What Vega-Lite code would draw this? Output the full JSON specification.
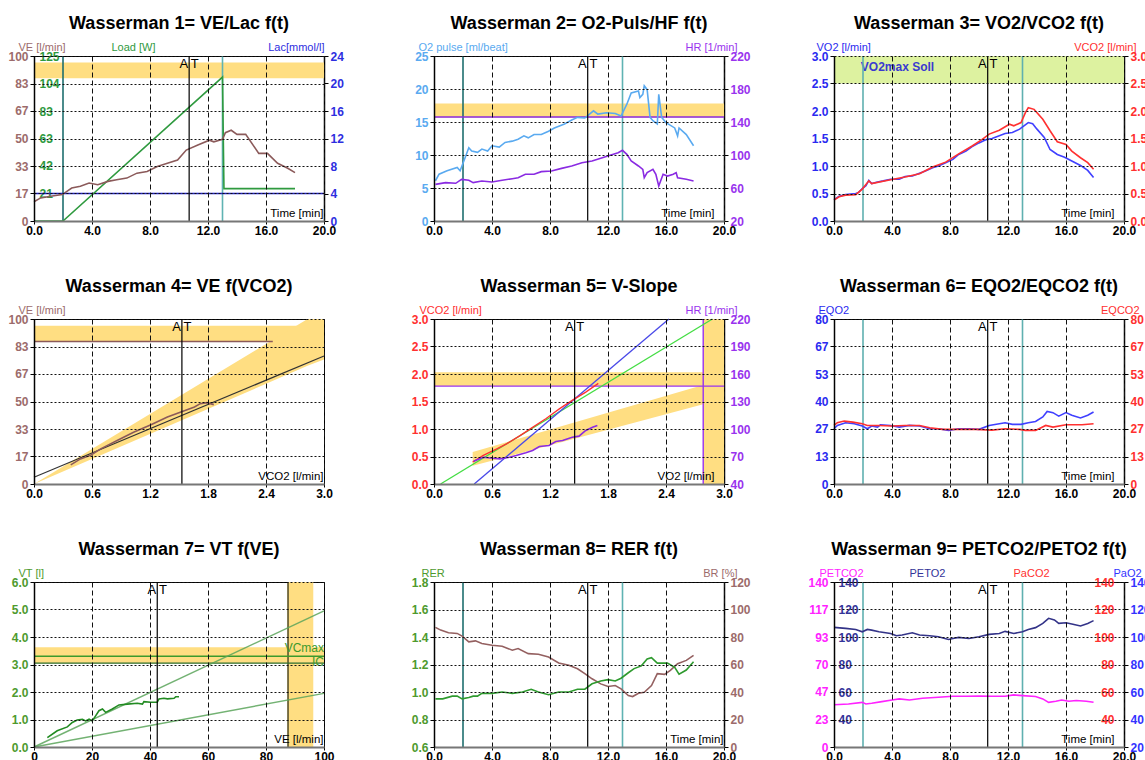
{
"$schema":"https://vega.github.io/schema/vega-lite/v6.json",
"background":"white",
"padding":{"left":7,"top":14,"right":5,"bottom":5},
"columns":3,
"spacing":{"row":98,"column":110},
"bounds":"flush",
"config":{
 "view":{"stroke":"black","strokeWidth":1},
 "axis":{"labelFont":"Liberation Sans","labelFontSize":12,"labelFontWeight":"bold","titleFont":"Liberation Sans","titleFontSize":11,"titleFontWeight":"normal","grid":false,"domainColor":"black","tickColor":"black","gridColor":"#111111","gridOpacity":1,"labelOverlap":false,"labelFlush":false},
 "axisX":{"gridDash":[5,3],"tickSize":3,"labelPadding":1,"domainColor":"#777777","domainWidth":2,"titleAlign":"right","titleBaseline":"bottom","titleY":-3,"titleX":289,"titleFontSize":11.5,"labelColor":"black","titleColor":"black"},
 "axisY":{"gridDash":[2,2],"titleAngle":0,"titleBaseline":"alphabetic","titleY":-6,"tickSize":4,"labelPadding":2,"domainWidth":1.5},
 "title":{"font":"Liberation Sans","fontSize":18,"fontWeight":"bold","color":"black","anchor":"middle","offset":8},
 "text":{"font":"Liberation Sans"},
 "line":{"strokeWidth":1.6}
},
"concat":[
{"title":{"text":"Wasserman 1= VE/Lac f(t)"},"width":290,"height":165,
 "resolve":{"scale":{"y":"independent"},"axis":{"y":"independent"}},
 "layer":[
  {"data":{"values":[{"lo":86.5,"hi":96}]},"mark":{"type":"rect","color":"#FFDE82"},
   "encoding":{"y":{"field":"lo","type":"quantitative","scale":{"domain":[0,100],"nice":false,"zero":false},"axis":null},"y2":{"field":"hi"}}},
  {"data":{"values":[{"t":2}]},"mark":{"type":"rule","color":"#1E6E6E","strokeWidth":1.6},
   "encoding":{"x":{"field":"t","type":"quantitative","scale":{"domain":[0,20],"nice":false,"zero":false}}}},
  {"data":{"values":[{"t":13}]},"mark":{"type":"rule","color":"#5FB3B3","strokeWidth":1.6},
   "encoding":{"x":{"field":"t","type":"quantitative","scale":{"domain":[0,20],"nice":false,"zero":false}}}},
  {"data":{"values":[{"t":0,"t1":20,"lac":4}]},"mark":{"type":"rule","color":"#2323C8","strokeWidth":1.4},
   "encoding":{"x":{"field":"t","type":"quantitative","scale":{"domain":[0,20],"nice":false,"zero":false}},"x2":{"field":"t1"},"y":{"field":"lac","type":"quantitative","scale":{"domain":[0,24],"nice":false,"zero":false},"axis":{"orient":"right","values":[0,4,8,12,16,20,24],"labelColor":"#2E2EE0","title":"Lac[mmol/l]","titleColor":"#2E2EE0","titleAlign":"right","titleX":0}}}},
  {"data":{"values":[{"t":0,"load":0},{"t":2,"load":0},{"t":13.0,"load":109},{"t":13.1,"load":24.5},{"t":18,"load":24.5}]},"mark":{"type":"line","color":"#2F9A3F"},
   "encoding":{"x":{"field":"t","type":"quantitative","scale":{"domain":[0,20],"nice":false,"zero":false}},"y":{"field":"load","type":"quantitative","scale":{"domain":[0,125],"nice":false,"zero":false},"axis":{"orient":"left","values":[20.833,41.667,62.5,83.333,104.167,125],"format":".0f","ticks":false,"tickSize":0,"labelPadding":-5,"labelAlign":"left","domain":false,"labelColor":"#2F9A3F","title":"Load [W]","titleColor":"#2F9A3F","titleAlign":"left","titleX":77}}}},
  {"data":{"values":[{"t":0,"v":11.7},{"t":0.46,"v":14},{"t":1.15,"v":15},{"t":1.95,"v":16},{"t":2.6,"v":20},{"t":3.2,"v":21},{"t":3.8,"v":23},{"t":4.4,"v":22},{"t":5.1,"v":24},{"t":5.7,"v":25},{"t":6.4,"v":26},{"t":7.1,"v":29},{"t":7.8,"v":30},{"t":8.5,"v":33},{"t":9.2,"v":35},{"t":9.9,"v":37},{"t":10.5,"v":43},{"t":11.3,"v":46},{"t":12.1,"v":49},{"t":12.4,"v":48},{"t":13.0,"v":49.5},{"t":13.2,"v":53.5},{"t":13.6,"v":55},{"t":14.0,"v":52.5},{"t":14.6,"v":52.5},{"t":15.5,"v":41},{"t":16.1,"v":41},{"t":16.8,"v":35},{"t":17.5,"v":32},{"t":18.0,"v":29.3}]},"mark":{"type":"line","color":"#8B5A5A"},
   "encoding":{"x":{"field":"t","type":"quantitative","scale":{"domain":[0,20],"nice":false,"zero":false},"axis":{"values":[0,2,4,6,8,10,12,14,16,18,20],"labelExpr":"datum.value % 4 === 0 ? format(datum.value, '.1f') : ''","grid":true,"zindex":1,"title":"Time [min]","titleX":289}},"y":{"field":"v","type":"quantitative","scale":{"domain":[0,100],"nice":false,"zero":false},"axis":{"orient":"left","values":[0,16.667,33.333,50,66.667,83.333,100],"format":".0f","grid":true,"zindex":1,"labelColor":"#9C6B6B","title":"VE [l/min]","titleColor":"#9C6B6B","titleAlign":"left","titleX":-16}}}},
  {"data":{"values":[{"t":10.7}]},"mark":{"type":"rule","color":"black","strokeWidth":1.2},
   "encoding":{"x":{"field":"t","type":"quantitative","scale":{"domain":[0,20],"nice":false,"zero":false}}}},
  {"data":{"values":[{"t":10.7,"y":100,"label":"A T"}]},"mark":{"type":"text","baseline":"top","dy":2,"fontSize":13,"color":"black"},
   "encoding":{"x":{"field":"t","type":"quantitative","scale":{"domain":[0,20],"nice":false,"zero":false}},"y":{"field":"y","type":"quantitative","scale":{"domain":[0,100],"nice":false,"zero":false},"axis":null},"text":{"field":"label"}}}
 ]},
{"title":{"text":"Wasserman 2= O2-Puls/HF f(t)"},"width":290,"height":165,
 "resolve":{"scale":{"y":"independent"},"axis":{"y":"independent"}},
 "layer":[
  {"data":{"values":[{"lo":15.7,"hi":17.8}]},"mark":{"type":"rect","color":"#FFDE82"},
   "encoding":{"y":{"field":"lo","type":"quantitative","scale":{"domain":[0,25],"nice":false,"zero":false},"axis":null},"y2":{"field":"hi"}}},
  {"data":{"values":[{"t":2}]},"mark":{"type":"rule","color":"#1E6E6E","strokeWidth":1.6},
   "encoding":{"x":{"field":"t","type":"quantitative","scale":{"domain":[0,20],"nice":false,"zero":false}}}},
  {"data":{"values":[{"t":13}]},"mark":{"type":"rule","color":"#5FB3B3","strokeWidth":1.6},
   "encoding":{"x":{"field":"t","type":"quantitative","scale":{"domain":[0,20],"nice":false,"zero":false}}}},
  {"data":{"values":[{"hr":146}]},"mark":{"type":"rule","color":"#8A2BE2","strokeWidth":1.4},
   "encoding":{"y":{"field":"hr","type":"quantitative","scale":{"domain":[20,220],"nice":false,"zero":false},"axis":null}}},
  {"data":{"values":[{"t":0.1,"v":6.1},{"t":0.35,"v":7.1},{"t":0.9,"v":7.6},{"t":1.6,"v":8.1},{"t":1.8,"v":7.6},{"t":2.06,"v":9.1},{"t":2.4,"v":11.1},{"t":2.6,"v":10.6},{"t":3.0,"v":10.4},{"t":3.3,"v":10.9},{"t":3.7,"v":10.6},{"t":4.0,"v":11.4},{"t":4.5,"v":11.2},{"t":4.9,"v":11.9},{"t":5.4,"v":12.1},{"t":5.8,"v":12.4},{"t":6.2,"v":12.9},{"t":6.5,"v":12.6},{"t":6.9,"v":13.1},{"t":7.4,"v":13.1},{"t":7.9,"v":13.6},{"t":8.3,"v":14.1},{"t":9.0,"v":14.7},{"t":9.5,"v":15.3},{"t":9.9,"v":15.7},{"t":10.4,"v":15.6},{"t":11.0,"v":16.7},{"t":11.3,"v":16.2},{"t":11.9,"v":16.4},{"t":12.5,"v":16.3},{"t":12.9,"v":15.9},{"t":13.3,"v":17.7},{"t":13.6,"v":19.4},{"t":14.1,"v":19.7},{"t":14.2,"v":18.7},{"t":14.4,"v":19.2},{"t":14.5,"v":20.5},{"t":14.7,"v":19.9},{"t":14.9,"v":15.7},{"t":15.1,"v":15.2},{"t":15.4,"v":14.7},{"t":15.5,"v":19.2},{"t":15.7,"v":15.7},{"t":16.0,"v":14.9},{"t":16.6,"v":14.1},{"t":16.8,"v":12.9},{"t":16.9,"v":14.1},{"t":17.4,"v":13.1},{"t":17.9,"v":11.4}]},"mark":{"type":"line","color":"#5AAAF0"},
   "encoding":{"x":{"field":"t","type":"quantitative","scale":{"domain":[0,20],"nice":false,"zero":false},"axis":{"values":[0,2,4,6,8,10,12,14,16,18,20],"labelExpr":"datum.value % 4 === 0 ? format(datum.value, '.1f') : ''","grid":true,"zindex":1,"title":"Time [min]","titleX":280}},"y":{"field":"v","type":"quantitative","scale":{"domain":[0,25],"nice":false,"zero":false},"axis":{"orient":"left","values":[0,5,10,15,20,25],"format":"d","grid":true,"zindex":1,"labelColor":"#5AAAF0","title":"O2 pulse [ml/beat]","titleColor":"#5AAAF0","titleAlign":"left","titleX":-16}}}},
  {"data":{"values":[{"t":0.1,"hr":64.4},{"t":0.8,"hr":66.5},{"t":1.5,"hr":65.7},{"t":1.9,"hr":70.5},{"t":2.4,"hr":69.3},{"t":2.7,"hr":66.5},{"t":3.3,"hr":68.5},{"t":4.0,"hr":67.3},{"t":4.7,"hr":69.3},{"t":5.4,"hr":71.3},{"t":5.8,"hr":72.5},{"t":6.3,"hr":76.6},{"t":6.9,"hr":76.6},{"t":7.4,"hr":79.8},{"t":8.1,"hr":80.6},{"t":8.8,"hr":83.8},{"t":9.5,"hr":86.7},{"t":10.2,"hr":90.7},{"t":10.9,"hr":92.7},{"t":11.5,"hr":96},{"t":12.2,"hr":100},{"t":12.7,"hr":102.8},{"t":13.0,"hr":105.7},{"t":13.3,"hr":100.8},{"t":13.6,"hr":92.7},{"t":14.1,"hr":86.7},{"t":14.4,"hr":82.6},{"t":14.5,"hr":72.5},{"t":14.7,"hr":78.6},{"t":15.1,"hr":82.6},{"t":15.3,"hr":76.6},{"t":15.5,"hr":62.4},{"t":15.8,"hr":76.6},{"t":16.1,"hr":74.5},{"t":16.5,"hr":76.6},{"t":16.7,"hr":78.6},{"t":16.8,"hr":72.5},{"t":17.4,"hr":70.5},{"t":17.9,"hr":68.5}]},"mark":{"type":"line","color":"#8A2BE2"},
   "encoding":{"x":{"field":"t","type":"quantitative","scale":{"domain":[0,20],"nice":false,"zero":false}},"y":{"field":"hr","type":"quantitative","scale":{"domain":[20,220],"nice":false,"zero":false},"axis":{"orient":"right","values":[20,60,100,140,180,220],"labelColor":"#9933EE","title":"HR [1/min]","titleColor":"#9933EE","titleAlign":"right","titleX":13}}}},
  {"data":{"values":[{"t":10.6}]},"mark":{"type":"rule","color":"black","strokeWidth":1.2},
   "encoding":{"x":{"field":"t","type":"quantitative","scale":{"domain":[0,20],"nice":false,"zero":false}}}},
  {"data":{"values":[{"t":10.6,"y":25,"label":"A T"}]},"mark":{"type":"text","baseline":"top","dy":2,"fontSize":13,"color":"black"},
   "encoding":{"x":{"field":"t","type":"quantitative","scale":{"domain":[0,20],"nice":false,"zero":false}},"y":{"field":"y","type":"quantitative","scale":{"domain":[0,25],"nice":false,"zero":false},"axis":null},"text":{"field":"label"}}}
 ]},
{"title":{"text":"Wasserman 3= VO2/VCO2 f(t)"},"width":290,"height":165,
 "resolve":{"scale":{"y":"independent"},"axis":{"y":"independent"}},
 "layer":[
  {"data":{"values":[{"lo":2.5,"hi":3.0}]},"mark":{"type":"rect","color":"#DDF2A0"},
   "encoding":{"y":{"field":"lo","type":"quantitative","scale":{"domain":[0,3],"nice":false,"zero":false},"axis":null},"y2":{"field":"hi"}}},
  {"data":{"values":[{"t":1.85,"y":2.8,"label":"VO2max Soll"}]},"mark":{"type":"text","align":"left","baseline":"middle","fontSize":12,"fontWeight":"bold","color":"#3A3AD0"},
   "encoding":{"x":{"field":"t","type":"quantitative","scale":{"domain":[0,20],"nice":false,"zero":false}},"y":{"field":"y","type":"quantitative","scale":{"domain":[0,3],"nice":false,"zero":false},"axis":null},"text":{"field":"label"}}},
  {"data":{"values":[{"t":2}]},"mark":{"type":"rule","color":"#5FB0B0","strokeWidth":1.6},
   "encoding":{"x":{"field":"t","type":"quantitative","scale":{"domain":[0,20],"nice":false,"zero":false}}}},
  {"data":{"values":[{"t":13}]},"mark":{"type":"rule","color":"#5FB0B0","strokeWidth":1.6},
   "encoding":{"x":{"field":"t","type":"quantitative","scale":{"domain":[0,20],"nice":false,"zero":false}}}},
  {"data":{"values":[{"t":0,"v":0.39},{"t":0.35,"v":0.45},{"t":0.8,"v":0.48},{"t":1.5,"v":0.5},{"t":1.7,"v":0.52},{"t":1.95,"v":0.59},{"t":2.2,"v":0.64},{"t":2.4,"v":0.74},{"t":2.6,"v":0.68},{"t":3.0,"v":0.71},{"t":3.4,"v":0.73},{"t":3.9,"v":0.76},{"t":4.5,"v":0.76},{"t":4.9,"v":0.81},{"t":5.4,"v":0.82},{"t":5.9,"v":0.87},{"t":6.3,"v":0.91},{"t":6.8,"v":0.97},{"t":7.2,"v":1.0},{"t":7.7,"v":1.06},{"t":8.2,"v":1.12},{"t":8.6,"v":1.21},{"t":9.1,"v":1.27},{"t":9.5,"v":1.35},{"t":10.0,"v":1.42},{"t":10.5,"v":1.48},{"t":10.9,"v":1.5},{"t":11.4,"v":1.55},{"t":11.8,"v":1.59},{"t":12.3,"v":1.61},{"t":12.8,"v":1.67},{"t":13.1,"v":1.73},{"t":13.4,"v":1.79},{"t":13.7,"v":1.77},{"t":14.0,"v":1.67},{"t":14.5,"v":1.52},{"t":14.9,"v":1.3},{"t":15.4,"v":1.21},{"t":15.9,"v":1.16},{"t":16.4,"v":1.09},{"t":17.0,"v":1.01},{"t":17.5,"v":0.92},{"t":17.9,"v":0.79}]},"mark":{"type":"line","color":"#4040FF"},
   "encoding":{"x":{"field":"t","type":"quantitative","scale":{"domain":[0,20],"nice":false,"zero":false},"axis":{"values":[0,2,4,6,8,10,12,14,16,18,20],"labelExpr":"datum.value % 4 === 0 ? format(datum.value, '.1f') : ''","grid":true,"zindex":1,"title":"Time [min]","titleX":280}},"y":{"field":"v","type":"quantitative","scale":{"domain":[0,3],"nice":false,"zero":false},"axis":{"orient":"left","values":[0,0.5,1,1.5,2,2.5,3],"format":".1f","grid":true,"zindex":1,"labelColor":"#2A2AF0","title":"VO2 [l/min]","titleColor":"#2A2AF0","titleAlign":"left","titleX":-18}}}},
  {"data":{"values":[{"t":0,"v":0.38},{"t":0.35,"v":0.44},{"t":0.8,"v":0.47},{"t":1.5,"v":0.48},{"t":1.95,"v":0.58},{"t":2.4,"v":0.73},{"t":2.6,"v":0.68},{"t":3.9,"v":0.75},{"t":4.9,"v":0.8},{"t":5.9,"v":0.86},{"t":6.8,"v":0.98},{"t":7.7,"v":1.07},{"t":8.6,"v":1.22},{"t":9.5,"v":1.36},{"t":10.2,"v":1.48},{"t":10.7,"v":1.58},{"t":11.4,"v":1.65},{"t":12.1,"v":1.76},{"t":12.4,"v":1.73},{"t":12.9,"v":1.79},{"t":13.2,"v":1.97},{"t":13.4,"v":2.06},{"t":13.8,"v":2.03},{"t":14.4,"v":1.85},{"t":14.9,"v":1.64},{"t":15.4,"v":1.44},{"t":16.0,"v":1.39},{"t":16.4,"v":1.27},{"t":17.0,"v":1.15},{"t":17.5,"v":1.06},{"t":17.9,"v":0.94}]},"mark":{"type":"line","color":"#FF3030"},
   "encoding":{"x":{"field":"t","type":"quantitative","scale":{"domain":[0,20],"nice":false,"zero":false}},"y":{"field":"v","type":"quantitative","scale":{"domain":[0,3],"nice":false,"zero":false},"axis":{"orient":"right","values":[0,0.5,1,1.5,2,2.5,3],"format":".1f","labelColor":"#FF3030","title":"VCO2 [l/min]","titleColor":"#FF3030","titleAlign":"right","titleX":12}}}},
  {"data":{"values":[{"t":10.6}]},"mark":{"type":"rule","color":"black","strokeWidth":1.2},
   "encoding":{"x":{"field":"t","type":"quantitative","scale":{"domain":[0,20],"nice":false,"zero":false}}}},
  {"data":{"values":[{"t":10.6,"y":3,"label":"A T"}]},"mark":{"type":"text","baseline":"top","dy":2,"fontSize":13,"color":"black"},
   "encoding":{"x":{"field":"t","type":"quantitative","scale":{"domain":[0,20],"nice":false,"zero":false}},"y":{"field":"y","type":"quantitative","scale":{"domain":[0,3],"nice":false,"zero":false},"axis":null},"text":{"field":"label"}}}
 ]},
{"title":{"text":"Wasserman 4= VE f(VCO2)"},"width":290,"height":165,
 "resolve":{"scale":{"y":"independent"},"axis":{"y":"independent"}},
 "layer":[
  {"data":{"values":[{"x0":0,"x1":2.72,"lo":86.4,"hi":95.9}]},"mark":{"type":"rect","color":"#FFDE82"},
   "encoding":{"x":{"field":"x0","type":"quantitative","scale":{"domain":[0,3],"nice":false,"zero":false},"axis":{"values":[0,0.3,0.6,0.9,1.2,1.5,1.8,2.1,2.4,2.7,3],"labelExpr":"round(datum.value*10) % 6 === 0 ? format(datum.value, '.1f') : ''","grid":true,"zindex":1,"title":"VCO2 [l/min]","titleX":289}},"x2":{"field":"x1"},
   "y":{"field":"lo","type":"quantitative","scale":{"domain":[0,100],"nice":false,"zero":false},"axis":{"orient":"left","values":[0,16.667,33.333,50,66.667,83.333,100],"format":".0f","grid":true,"zindex":1,"labelColor":"#9C6B6B","title":"VE [l/min]","titleColor":"#9C6B6B","titleAlign":"left","titleX":-16}},"y2":{"field":"hi"}}},
  {"data":{"values":[{"vco2":0,"lo":0,"hi":0},{"vco2":2.83,"lo":71.6,"hi":100},{"vco2":3.0,"lo":75.5,"hi":100}]},"mark":{"type":"area","color":"#FFDE82","orient":"vertical"},
   "encoding":{"x":{"field":"vco2","type":"quantitative","scale":{"domain":[0,3],"nice":false,"zero":false}},"y":{"field":"lo","type":"quantitative","scale":{"domain":[0,100],"nice":false,"zero":false},"axis":null},"y2":{"field":"hi"}}},
  {"data":{"values":[{"x0":0,"x1":2.47,"ve":86.4}]},"mark":{"type":"rule","color":"#8B5A5A","strokeWidth":1.5},
   "encoding":{"x":{"field":"x0","type":"quantitative","scale":{"domain":[0,3],"nice":false,"zero":false}},"x2":{"field":"x1"},"y":{"field":"ve","type":"quantitative","scale":{"domain":[0,100],"nice":false,"zero":false},"axis":null}}},
  {"data":{"values":[{"vco2":0,"ve":4.1},{"vco2":3.0,"ve":77.6}]},"mark":{"type":"line","color":"#333333","strokeWidth":1.2},
   "encoding":{"x":{"field":"vco2","type":"quantitative","scale":{"domain":[0,3],"nice":false,"zero":false}},"y":{"field":"ve","type":"quantitative","scale":{"domain":[0,100],"nice":false,"zero":false},"axis":null}}},
  {"data":{"values":[{"vco2":0.38,"ve":11.6},{"vco2":0.48,"ve":15.2},{"vco2":0.59,"ve":17.6},{"vco2":0.69,"ve":21.3},{"vco2":0.86,"ve":26.4},{"vco2":1.03,"ve":31.4},{"vco2":1.21,"ve":35.9},{"vco2":1.38,"ve":40.6},{"vco2":1.52,"ve":43.6},{"vco2":1.66,"ve":46.7},{"vco2":1.72,"ve":48.7},{"vco2":1.79,"ve":49.3},{"vco2":1.86,"ve":48.1}]},"mark":{"type":"line","color":"#8B5A5A"},
   "encoding":{"x":{"field":"vco2","type":"quantitative","scale":{"domain":[0,3],"nice":false,"zero":false}},"y":{"field":"ve","type":"quantitative","scale":{"domain":[0,100],"nice":false,"zero":false},"axis":null}}},
  {"data":{"values":[{"vco2":1.53}]},"mark":{"type":"rule","color":"black","strokeWidth":1.2},
   "encoding":{"x":{"field":"vco2","type":"quantitative","scale":{"domain":[0,3],"nice":false,"zero":false}}}},
  {"data":{"values":[{"vco2":1.53,"y":100,"label":"A T"}]},"mark":{"type":"text","baseline":"top","dy":2,"fontSize":13,"color":"black"},
   "encoding":{"x":{"field":"vco2","type":"quantitative","scale":{"domain":[0,3],"nice":false,"zero":false}},"y":{"field":"y","type":"quantitative","scale":{"domain":[0,100],"nice":false,"zero":false},"axis":null},"text":{"field":"label"}}}
 ]},
{"title":{"text":"Wasserman 5= V-Slope"},"width":290,"height":165,
 "resolve":{"scale":{"y":"independent"},"axis":{"y":"independent"}},
 "layer":[
  {"data":{"values":[{"lo":1.78,"hi":2.03}]},"mark":{"type":"rect","color":"#FFDE82"},
   "encoding":{"y":{"field":"lo","type":"quantitative","scale":{"domain":[0,3],"nice":false,"zero":false},"axis":null},"y2":{"field":"hi"}}},
  {"data":{"values":[{"x0":2.785,"x1":3.0}]},"mark":{"type":"rect","color":"#FFDE82"},
   "encoding":{"x":{"field":"x0","type":"quantitative","scale":{"domain":[0,3],"nice":false,"zero":false}},"x2":{"field":"x1"}}},
  {"data":{"values":[{"vo2":0.4,"lo":0.33,"hi":0.58},{"vo2":2.785,"lo":1.45,"hi":1.8}]},"mark":{"type":"area","color":"#FFDE82","orient":"vertical"},
   "encoding":{"x":{"field":"vo2","type":"quantitative","scale":{"domain":[0,3],"nice":false,"zero":false}},"y":{"field":"lo","type":"quantitative","scale":{"domain":[0,3],"nice":false,"zero":false},"axis":null},"y2":{"field":"hi"}}},
  {"data":{"values":[{"vco2":1.78}]},"mark":{"type":"rule","color":"#9933EE","strokeWidth":1.4},
   "encoding":{"y":{"field":"vco2","type":"quantitative","scale":{"domain":[0,3],"nice":false,"zero":false},"axis":null}}},
  {"data":{"values":[{"vo2":2.785}]},"mark":{"type":"rule","color":"#9933EE","strokeWidth":1.4},
   "encoding":{"x":{"field":"vo2","type":"quantitative","scale":{"domain":[0,3],"nice":false,"zero":false}}}},
  {"data":{"values":[{"vo2":0.068,"vco2":0},{"vo2":2.88,"vco2":3.0}]},"mark":{"type":"line","color":"#44DD44","strokeWidth":1.3},
   "encoding":{"x":{"field":"vo2","type":"quantitative","scale":{"domain":[0,3],"nice":false,"zero":false}},"y":{"field":"vco2","type":"quantitative","scale":{"domain":[0,3],"nice":false,"zero":false},"axis":null}}},
  {"data":{"values":[{"vo2":0.416,"vco2":0},{"vo2":2.43,"vco2":3.0}]},"mark":{"type":"line","color":"#4848E8","strokeWidth":1.3},
   "encoding":{"x":{"field":"vo2","type":"quantitative","scale":{"domain":[0,3],"nice":false,"zero":false}},"y":{"field":"vco2","type":"quantitative","scale":{"domain":[0,3],"nice":false,"zero":false},"axis":null}}},
  {"data":{"values":[{"vo2":0.4,"vco2":0.4},{"vo2":0.51,"vco2":0.52},{"vo2":0.65,"vco2":0.64},{"vo2":0.75,"vco2":0.73},{"vo2":0.89,"vco2":0.88},{"vo2":1.02,"vco2":1.03},{"vo2":1.16,"vco2":1.19},{"vo2":1.3,"vco2":1.37},{"vo2":1.43,"vco2":1.52},{"vo2":1.57,"vco2":1.67},{"vo2":1.7,"vco2":1.83}]},"mark":{"type":"line","color":"#FF3030","strokeWidth":1.3},
   "encoding":{"x":{"field":"vo2","type":"quantitative","scale":{"domain":[0,3],"nice":false,"zero":false},"axis":{"values":[0,0.3,0.6,0.9,1.2,1.5,1.8,2.1,2.4,2.7,3],"labelExpr":"round(datum.value*10) % 6 === 0 ? format(datum.value, '.1f') : ''","grid":true,"zindex":1,"title":"VO2 [l/min]","titleX":280}},"y":{"field":"vco2","type":"quantitative","scale":{"domain":[0,3],"nice":false,"zero":false},"axis":{"orient":"left","values":[0,0.5,1,1.5,2,2.5,3],"format":".1f","grid":true,"zindex":1,"labelColor":"#FF3030","title":"VCO2 [l/min]","titleColor":"#FF3030","titleAlign":"left","titleX":-15}}}},
  {"data":{"values":[{"vo2":0.41,"hr":64.8},{"vo2":0.51,"hr":69.2},{"vo2":0.61,"hr":68.1},{"vo2":0.68,"hr":67.4},{"vo2":0.78,"hr":69.2},{"vo2":0.85,"hr":71},{"vo2":0.95,"hr":74},{"vo2":1.02,"hr":76.5},{"vo2":1.09,"hr":80.9},{"vo2":1.19,"hr":82},{"vo2":1.26,"hr":86.4},{"vo2":1.33,"hr":87.5},{"vo2":1.43,"hr":91.1},{"vo2":1.5,"hr":92.2},{"vo2":1.57,"hr":98.4},{"vo2":1.64,"hr":102},{"vo2":1.69,"hr":103.9}]},"mark":{"type":"line","color":"#8A2BE2"},
   "encoding":{"x":{"field":"vo2","type":"quantitative","scale":{"domain":[0,3],"nice":false,"zero":false}},"y":{"field":"hr","type":"quantitative","scale":{"domain":[40,220],"nice":false,"zero":false},"axis":{"orient":"right","values":[40,70,100,130,160,190,220],"labelColor":"#9933EE","title":"HR [1/min]","titleColor":"#9933EE","titleAlign":"right","titleX":13}}}},
  {"data":{"values":[{"vo2":1.455}]},"mark":{"type":"rule","color":"black","strokeWidth":1.2},
   "encoding":{"x":{"field":"vo2","type":"quantitative","scale":{"domain":[0,3],"nice":false,"zero":false}}}},
  {"data":{"values":[{"vo2":1.455,"y":3,"label":"A T"}]},"mark":{"type":"text","baseline":"top","dy":2,"fontSize":13,"color":"black"},
   "encoding":{"x":{"field":"vo2","type":"quantitative","scale":{"domain":[0,3],"nice":false,"zero":false}},"y":{"field":"y","type":"quantitative","scale":{"domain":[0,3],"nice":false,"zero":false},"axis":null},"text":{"field":"label"}}}
 ]},
{"title":{"text":"Wasserman 6= EQO2/EQCO2 f(t)"},"width":290,"height":165,
 "resolve":{"scale":{"y":"independent"},"axis":{"y":"independent"}},
 "layer":[
  {"data":{"values":[{"t":2}]},"mark":{"type":"rule","color":"#5FB0B0","strokeWidth":1.6},
   "encoding":{"x":{"field":"t","type":"quantitative","scale":{"domain":[0,20],"nice":false,"zero":false}}}},
  {"data":{"values":[{"t":13}]},"mark":{"type":"rule","color":"#5FB0B0","strokeWidth":1.6},
   "encoding":{"x":{"field":"t","type":"quantitative","scale":{"domain":[0,20],"nice":false,"zero":false}}}},
  {"data":{"values":[{"t":0,"v":26.8},{"t":0.23,"v":28.4},{"t":0.8,"v":29.7},{"t":1.4,"v":29.2},{"t":1.95,"v":28.1},{"t":2.3,"v":26.8},{"t":2.6,"v":28.1},{"t":3.0,"v":27.6},{"t":3.2,"v":28.7},{"t":3.9,"v":28.4},{"t":4.5,"v":27.6},{"t":5.2,"v":28.4},{"t":5.9,"v":28.1},{"t":6.6,"v":26.8},{"t":7.2,"v":26.8},{"t":7.9,"v":26},{"t":8.6,"v":26.8},{"t":9.3,"v":26.8},{"t":10.0,"v":26.5},{"t":10.7,"v":28.4},{"t":11.4,"v":29.2},{"t":11.8,"v":29.7},{"t":12.3,"v":28.9},{"t":12.9,"v":28.9},{"t":13.4,"v":29.7},{"t":13.9,"v":30.3},{"t":14.4,"v":32.5},{"t":14.7,"v":35.2},{"t":15.1,"v":34.6},{"t":15.5,"v":32.9},{"t":16.0,"v":34.6},{"t":16.4,"v":33.3},{"t":17.0,"v":32},{"t":17.5,"v":33.3},{"t":17.9,"v":34.9}]},"mark":{"type":"line","color":"#4040FF"},
   "encoding":{"x":{"field":"t","type":"quantitative","scale":{"domain":[0,20],"nice":false,"zero":false},"axis":{"values":[0,2,4,6,8,10,12,14,16,18,20],"labelExpr":"datum.value % 4 === 0 ? format(datum.value, '.1f') : ''","grid":true,"zindex":1,"title":"Time [min]","titleX":280}},"y":{"field":"v","type":"quantitative","scale":{"domain":[0,80],"nice":false,"zero":false},"axis":{"orient":"left","values":[0,13.333,26.667,40,53.333,66.667,80],"format":".0f","grid":true,"zindex":1,"labelColor":"#2A2AF0","title":"EQO2","titleColor":"#2A2AF0","titleAlign":"left","titleX":-16}}}},
  {"data":{"values":[{"t":0,"v":28.4},{"t":0.23,"v":29.7},{"t":0.7,"v":30.5},{"t":1.3,"v":30.0},{"t":1.95,"v":29.2},{"t":2.3,"v":28.4},{"t":3.1,"v":28.4},{"t":4.0,"v":28.1},{"t":4.9,"v":28.4},{"t":5.9,"v":28.4},{"t":6.6,"v":27.3},{"t":7.5,"v":26.5},{"t":8.6,"v":26.5},{"t":9.8,"v":26.5},{"t":10.9,"v":26.1},{"t":11.8,"v":26.8},{"t":12.8,"v":26.5},{"t":13.2,"v":26},{"t":13.9,"v":26},{"t":14.6,"v":28.4},{"t":15.1,"v":27.6},{"t":16.0,"v":28.7},{"t":17.1,"v":28.7},{"t":17.9,"v":29.2}]},"mark":{"type":"line","color":"#FF3030"},
   "encoding":{"x":{"field":"t","type":"quantitative","scale":{"domain":[0,20],"nice":false,"zero":false}},"y":{"field":"v","type":"quantitative","scale":{"domain":[0,80],"nice":false,"zero":false},"axis":{"orient":"right","values":[0,13.333,26.667,40,53.333,66.667,80],"format":".0f","labelColor":"#FF3030","title":"EQCO2","titleColor":"#FF3030","titleAlign":"right","titleX":15}}}},
  {"data":{"values":[{"t":10.6}]},"mark":{"type":"rule","color":"black","strokeWidth":1.2},
   "encoding":{"x":{"field":"t","type":"quantitative","scale":{"domain":[0,20],"nice":false,"zero":false}}}},
  {"data":{"values":[{"t":10.6,"y":80,"label":"A T"}]},"mark":{"type":"text","baseline":"top","dy":2,"fontSize":13,"color":"black"},
   "encoding":{"x":{"field":"t","type":"quantitative","scale":{"domain":[0,20],"nice":false,"zero":false}},"y":{"field":"y","type":"quantitative","scale":{"domain":[0,80],"nice":false,"zero":false},"axis":null},"text":{"field":"label"}}}
 ]},
{"title":{"text":"Wasserman 7= VT f(VE)"},"width":290,"height":165,
 "resolve":{"scale":{"y":"independent"},"axis":{"y":"independent"}},
 "layer":[
  {"data":{"values":[{"lo":3.05,"hi":3.63}]},"mark":{"type":"rect","color":"#FFDE82"},
   "encoding":{"y":{"field":"lo","type":"quantitative","scale":{"domain":[0,6],"nice":false,"zero":false},"axis":null},"y2":{"field":"hi"}}},
  {"data":{"values":[{"x0":87.6,"x1":96.3}]},"mark":{"type":"rect","color":"#FFDE82"},
   "encoding":{"x":{"field":"x0","type":"quantitative","scale":{"domain":[0,100],"nice":false,"zero":false}},"x2":{"field":"x1"}}},
  {"data":{"values":[{"ve":87.6}]},"mark":{"type":"rule","color":"#6E6438","strokeWidth":1.8},
   "encoding":{"x":{"field":"ve","type":"quantitative","scale":{"domain":[0,100],"nice":false,"zero":false}}}},
  {"data":{"values":[{"vt":3.3}]},"mark":{"type":"rule","color":"#3C9A2C","strokeWidth":1.5},
   "encoding":{"y":{"field":"vt","type":"quantitative","scale":{"domain":[0,6],"nice":false,"zero":false},"axis":null}}},
  {"data":{"values":[{"vt":3.05}]},"mark":{"type":"rule","color":"#2E6E2E","strokeWidth":1.3},
   "encoding":{"y":{"field":"vt","type":"quantitative","scale":{"domain":[0,6],"nice":false,"zero":false},"axis":null}}},
  {"data":{"values":[{"ve":100,"vt":3.33,"label":"VCmax"}]},"mark":{"type":"text","align":"right","baseline":"bottom","fontSize":12,"color":"#3C9A2C"},
   "encoding":{"x":{"field":"ve","type":"quantitative","scale":{"domain":[0,100],"nice":false,"zero":false}},"y":{"field":"vt","type":"quantitative","scale":{"domain":[0,6],"nice":false,"zero":false},"axis":null},"text":{"field":"label"}}},
  {"data":{"values":[{"ve":100,"vt":3.28,"label":"IC"}]},"mark":{"type":"text","align":"right","baseline":"top","fontSize":12,"color":"#3C9A2C"},
   "encoding":{"x":{"field":"ve","type":"quantitative","scale":{"domain":[0,100],"nice":false,"zero":false}},"y":{"field":"vt","type":"quantitative","scale":{"domain":[0,6],"nice":false,"zero":false},"axis":null},"text":{"field":"label"}}},
  {"data":{"values":[{"ve":0,"vt":0,"s":"a"},{"ve":100,"vt":4.95,"s":"a"},{"ve":0,"vt":0,"s":"b"},{"ve":100,"vt":1.95,"s":"b"}]},"mark":{"type":"line","color":"#5AA55A","strokeWidth":1.4,"opacity":0.85},
   "encoding":{"detail":{"field":"s"},"x":{"field":"ve","type":"quantitative","scale":{"domain":[0,100],"nice":false,"zero":false}},"y":{"field":"vt","type":"quantitative","scale":{"domain":[0,6],"nice":false,"zero":false},"axis":null}}},
  {"data":{"values":[{"ve":4.6,"vt":0.34},{"ve":8,"vt":0.59},{"ve":11.5,"vt":0.73},{"ve":13.2,"vt":0.89},{"ve":14.9,"vt":0.98},{"ve":16.7,"vt":1.01},{"ve":17.8,"vt":0.95},{"ve":19,"vt":1.01},{"ve":20.1,"vt":0.95},{"ve":21.3,"vt":1.14},{"ve":22.4,"vt":1.32},{"ve":23.6,"vt":1.38},{"ve":24.7,"vt":1.26},{"ve":27,"vt":1.38},{"ve":29.3,"vt":1.53},{"ve":32.2,"vt":1.56},{"ve":35.6,"vt":1.59},{"ve":37.4,"vt":1.56},{"ve":37.9,"vt":1.65},{"ve":40.2,"vt":1.63},{"ve":42.5,"vt":1.63},{"ve":43.1,"vt":1.75},{"ve":44.8,"vt":1.77},{"ve":46,"vt":1.75},{"ve":48.3,"vt":1.77},{"ve":48.9,"vt":1.83},{"ve":50,"vt":1.83}]},"mark":{"type":"line","color":"#228B22"},
   "encoding":{"x":{"field":"ve","type":"quantitative","scale":{"domain":[0,100],"nice":false,"zero":false},"axis":{"values":[0,10,20,30,40,50,60,70,80,90,100],"format":"d","grid":true,"zindex":1,"title":"VE [l/min]","titleX":289}},"y":{"field":"vt","type":"quantitative","scale":{"domain":[0,6],"nice":false,"zero":false},"axis":{"orient":"left","values":[0,1,2,3,4,5,6],"format":".1f","grid":true,"zindex":1,"labelColor":"#4E9A2E","title":"VT [l]","titleColor":"#4E9A2E","titleAlign":"left","titleX":-16}}}},
  {"data":{"values":[{"ve":42.5}]},"mark":{"type":"rule","color":"black","strokeWidth":1.2},
   "encoding":{"x":{"field":"ve","type":"quantitative","scale":{"domain":[0,100],"nice":false,"zero":false}}}},
  {"data":{"values":[{"ve":42.5,"y":6,"label":"A T"}]},"mark":{"type":"text","baseline":"top","dy":2,"fontSize":13,"color":"black"},
   "encoding":{"x":{"field":"ve","type":"quantitative","scale":{"domain":[0,100],"nice":false,"zero":false}},"y":{"field":"y","type":"quantitative","scale":{"domain":[0,6],"nice":false,"zero":false},"axis":null},"text":{"field":"label"}}}
 ]},
{"title":{"text":"Wasserman 8= RER f(t)"},"width":290,"height":165,
 "resolve":{"scale":{"y":"independent"},"axis":{"y":"independent"}},
 "layer":[
  {"data":{"values":[{"t":2}]},"mark":{"type":"rule","color":"#1E6E6E","strokeWidth":1.6},
   "encoding":{"x":{"field":"t","type":"quantitative","scale":{"domain":[0,20],"nice":false,"zero":false}}}},
  {"data":{"values":[{"t":13}]},"mark":{"type":"rule","color":"#5FB3B3","strokeWidth":1.6},
   "encoding":{"x":{"field":"t","type":"quantitative","scale":{"domain":[0,20],"nice":false,"zero":false}}}},
  {"data":{"values":[{"t":0.1,"br":87},{"t":0.46,"br":85},{"t":1.0,"br":83.1},{"t":1.6,"br":82.6},{"t":1.94,"br":80.6},{"t":2.4,"br":76.5},{"t":2.86,"br":77.2},{"t":3.3,"br":75.3},{"t":4.0,"br":74},{"t":4.7,"br":73.3},{"t":5.4,"br":70.4},{"t":5.8,"br":71.6},{"t":6.5,"br":67.9},{"t":7.2,"br":67.4},{"t":7.9,"br":65.5},{"t":8.6,"br":61.1},{"t":9.3,"br":59.4},{"t":9.9,"br":56.9},{"t":10.4,"br":53.3},{"t":10.9,"br":49.6},{"t":11.5,"br":45.9},{"t":12.0,"br":44},{"t":12.5,"br":44.7},{"t":12.9,"br":42.3},{"t":13.4,"br":37.4},{"t":13.7,"br":36.7},{"t":14.1,"br":39.1},{"t":14.5,"br":39.8},{"t":15.0,"br":44.7},{"t":15.4,"br":53.3},{"t":15.9,"br":52.8},{"t":16.3,"br":55.7},{"t":16.8,"br":60.6},{"t":17.4,"br":63},{"t":17.9,"br":66.7}]},"mark":{"type":"line","color":"#946060"},
   "encoding":{"x":{"field":"t","type":"quantitative","scale":{"domain":[0,20],"nice":false,"zero":false}},"y":{"field":"br","type":"quantitative","scale":{"domain":[0,120],"nice":false,"zero":false},"axis":{"orient":"right","values":[0,20,40,60,80,100,120],"labelColor":"#9C6B6B","title":"BR [%]","titleColor":"#9C6B6B","titleAlign":"right","titleX":13}}}},
  {"data":{"values":[{"t":0.1,"rer":0.95},{"t":0.6,"rer":0.95},{"t":1.26,"rer":0.97},{"t":1.6,"rer":0.97},{"t":1.94,"rer":0.95},{"t":2.4,"rer":0.96},{"t":2.7,"rer":0.97},{"t":3.0,"rer":0.97},{"t":3.3,"rer":0.99},{"t":4.0,"rer":0.99},{"t":4.7,"rer":1.0},{"t":5.4,"rer":0.99},{"t":6.1,"rer":1.0},{"t":6.7,"rer":1.02},{"t":7.2,"rer":1.0},{"t":7.9,"rer":0.98},{"t":8.6,"rer":1.0},{"t":9.3,"rer":1.0},{"t":9.9,"rer":1.02},{"t":10.4,"rer":1.02},{"t":10.9,"rer":1.06},{"t":11.5,"rer":1.08},{"t":12.0,"rer":1.09},{"t":12.5,"rer":1.08},{"t":12.9,"rer":1.1},{"t":13.4,"rer":1.14},{"t":13.8,"rer":1.17},{"t":14.3,"rer":1.19},{"t":14.7,"rer":1.24},{"t":15.0,"rer":1.25},{"t":15.4,"rer":1.21},{"t":16.1,"rer":1.21},{"t":16.6,"rer":1.18},{"t":16.9,"rer":1.13},{"t":17.4,"rer":1.16},{"t":17.9,"rer":1.22}]},"mark":{"type":"line","color":"#2E9A2E"},
   "encoding":{"x":{"field":"t","type":"quantitative","scale":{"domain":[0,20],"nice":false,"zero":false},"axis":{"values":[0,2,4,6,8,10,12,14,16,18,20],"labelExpr":"datum.value % 4 === 0 ? format(datum.value, '.1f') : ''","grid":true,"zindex":1,"title":"Time [min]","titleX":289}},"y":{"field":"rer","type":"quantitative","scale":{"domain":[0.6,1.8],"nice":false,"zero":false},"axis":{"orient":"left","values":[0.6,0.8,1.0,1.2,1.4,1.6,1.8],"format":".1f","grid":true,"zindex":1,"labelColor":"#4E9A2E","title":"RER","titleColor":"#4E9A2E","titleAlign":"left","titleX":-13}}}},
  {"data":{"values":[{"t":10.6}]},"mark":{"type":"rule","color":"black","strokeWidth":1.2},
   "encoding":{"x":{"field":"t","type":"quantitative","scale":{"domain":[0,20],"nice":false,"zero":false}}}},
  {"data":{"values":[{"t":10.6,"y":1.8,"label":"A T"}]},"mark":{"type":"text","baseline":"top","dy":2,"fontSize":13,"color":"black"},
   "encoding":{"x":{"field":"t","type":"quantitative","scale":{"domain":[0,20],"nice":false,"zero":false}},"y":{"field":"y","type":"quantitative","scale":{"domain":[0.6,1.8],"nice":false,"zero":false},"axis":null},"text":{"field":"label"}}}
 ]},
{"title":{"text":"Wasserman 9= PETCO2/PETO2 f(t)"},"width":290,"height":165,
 "resolve":{"scale":{"y":"independent"},"axis":{"y":"independent"}},
 "layer":[
  {"data":{"values":[{"t":2}]},"mark":{"type":"rule","color":"#5FB0B0","strokeWidth":1.6},
   "encoding":{"x":{"field":"t","type":"quantitative","scale":{"domain":[0,20],"nice":false,"zero":false}}}},
  {"data":{"values":[{"t":13}]},"mark":{"type":"rule","color":"#5FB0B0","strokeWidth":1.6},
   "encoding":{"x":{"field":"t","type":"quantitative","scale":{"domain":[0,20],"nice":false,"zero":false}}}},
  {"data":{"values":[{"t":null,"paco2":null}]},"mark":{"type":"rule","color":"#FF3030"},
   "encoding":{"x":{"field":"t","type":"quantitative","scale":{"domain":[0,20],"nice":false,"zero":false}},"y":{"field":"paco2","type":"quantitative","scale":{"domain":[20,140],"nice":false,"zero":false},"axis":{"orient":"right","values":[40,60,80,100,120,140],"ticks":false,"tickSize":0,"labelPadding":-10,"labelAlign":"right","domain":false,"labelColor":"#FF3030","title":"PaCO2","titleColor":"#FF3030","titleAlign":"left","titleX":-111}}}},
  {"data":{"values":[{"t":null,"pao2":null}]},"mark":{"type":"rule","color":"#3333FF"},
   "encoding":{"x":{"field":"t","type":"quantitative","scale":{"domain":[0,20],"nice":false,"zero":false}},"y":{"field":"pao2","type":"quantitative","scale":{"domain":[20,140],"nice":false,"zero":false},"axis":{"orient":"right","values":[20,40,60,80,100,120,140],"labelColor":"#3333FF","title":"PaO2","titleColor":"#3333FF","titleAlign":"left","titleX":-11}}}},
  {"data":{"values":[{"t":0,"v":35.9},{"t":1.0,"v":36.5},{"t":1.95,"v":37.9},{"t":2.2,"v":36.5},{"t":2.6,"v":37.1},{"t":3.3,"v":38.5},{"t":4.0,"v":39.9},{"t":4.5,"v":40.8},{"t":5.2,"v":39.9},{"t":6.1,"v":41.3},{"t":7.2,"v":42.2},{"t":8.2,"v":43.1},{"t":9.1,"v":43.1},{"t":10.0,"v":43.3},{"t":10.9,"v":43.1},{"t":11.8,"v":43.1},{"t":12.4,"v":44.2},{"t":13.0,"v":43.6},{"t":13.9,"v":42.8},{"t":14.4,"v":40.8},{"t":14.8,"v":37.9},{"t":15.3,"v":38.8},{"t":15.7,"v":39.9},{"t":16.2,"v":38.8},{"t":16.7,"v":39.4},{"t":17.4,"v":38.8},{"t":17.9,"v":37.9}]},"mark":{"type":"line","color":"#FF22FF"},
   "encoding":{"x":{"field":"t","type":"quantitative","scale":{"domain":[0,20],"nice":false,"zero":false},"axis":{"values":[0,2,4,6,8,10,12,14,16,18,20],"labelExpr":"datum.value % 4 === 0 ? format(datum.value, '.1f') : ''","grid":true,"zindex":1,"title":"Time [min]","titleX":280}},"y":{"field":"v","type":"quantitative","scale":{"domain":[0,140],"nice":false,"zero":false},"axis":{"orient":"left","values":[0,23.333,46.667,70,93.333,116.667,140],"format":".0f","grid":true,"zindex":1,"labelColor":"#FF22FF","title":"PETCO2","titleColor":"#FF22FF","titleAlign":"left","titleX":-15}}}},
  {"data":{"values":[{"t":0,"v":107},{"t":0.8,"v":106.3},{"t":1.5,"v":105.5},{"t":1.95,"v":103.8},{"t":2.3,"v":105.5},{"t":2.6,"v":105},{"t":3.1,"v":103.8},{"t":3.9,"v":102.6},{"t":4.3,"v":100.9},{"t":4.7,"v":101.4},{"t":5.4,"v":103.1},{"t":5.9,"v":101.4},{"t":6.6,"v":100.9},{"t":7.2,"v":100.2},{"t":7.9,"v":98.2},{"t":8.2,"v":98.9},{"t":8.6,"v":99.7},{"t":9.3,"v":98.9},{"t":10.0,"v":100.2},{"t":10.7,"v":101.9},{"t":11.4,"v":102.6},{"t":11.8,"v":104.1},{"t":12.4,"v":102.6},{"t":13.0,"v":103.8},{"t":13.4,"v":105.5},{"t":13.9,"v":106.8},{"t":14.4,"v":109.9},{"t":14.8,"v":113.6},{"t":15.2,"v":112.4},{"t":15.5,"v":109.9},{"t":16.0,"v":110.4},{"t":16.4,"v":109.4},{"t":17.0,"v":108},{"t":17.5,"v":109.9},{"t":17.9,"v":111.9}]},"mark":{"type":"line","color":"#333388"},
   "encoding":{"x":{"field":"t","type":"quantitative","scale":{"domain":[0,20],"nice":false,"zero":false}},"y":{"field":"v","type":"quantitative","scale":{"domain":[20,140],"nice":false,"zero":false},"axis":{"orient":"left","values":[40,60,80,100,120,140],"ticks":false,"tickSize":0,"labelPadding":-4,"labelAlign":"left","domain":false,"labelColor":"#333399","title":"PETO2","titleColor":"#333399","titleAlign":"left","titleX":75}}}},
  {"data":{"values":[{"t":10.6}]},"mark":{"type":"rule","color":"black","strokeWidth":1.2},
   "encoding":{"x":{"field":"t","type":"quantitative","scale":{"domain":[0,20],"nice":false,"zero":false}}}},
  {"data":{"values":[{"t":10.6,"y":140,"label":"A T"}]},"mark":{"type":"text","baseline":"top","dy":2,"fontSize":13,"color":"black"},
   "encoding":{"x":{"field":"t","type":"quantitative","scale":{"domain":[0,20],"nice":false,"zero":false}},"y":{"field":"y","type":"quantitative","scale":{"domain":[0,140],"nice":false,"zero":false},"axis":null},"text":{"field":"label"}}}
 ]}
]
}
